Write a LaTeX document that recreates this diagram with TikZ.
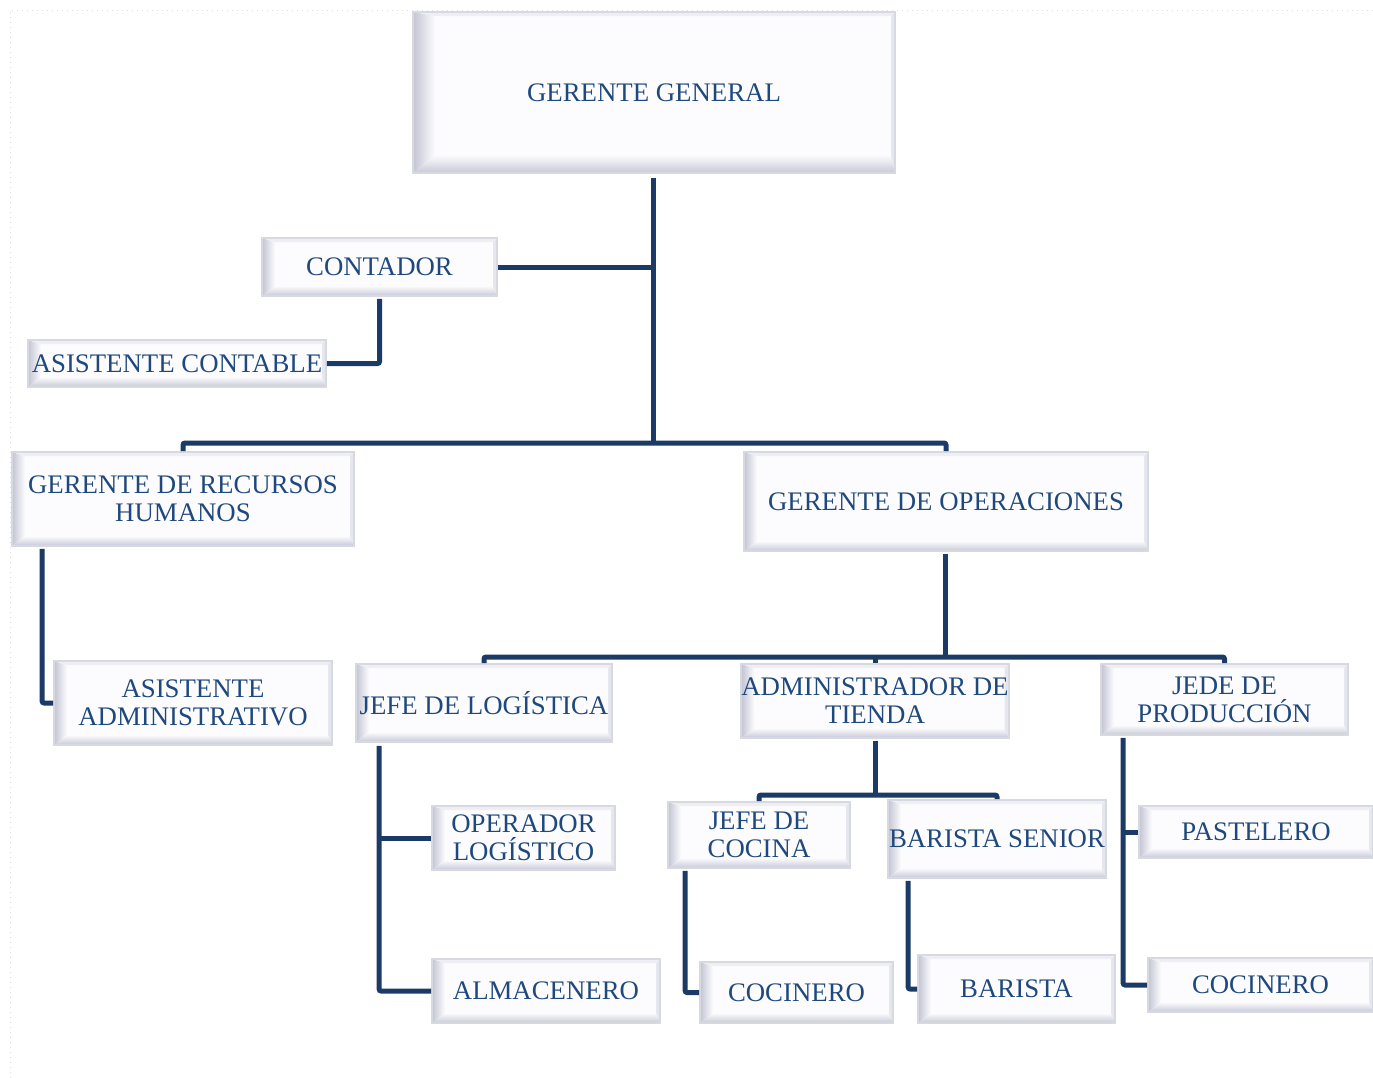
\documentclass[tikz,border=0pt]{standalone}
\usepackage{fontspec}
\setmainfont{Liberation Serif}
\definecolor{txtc}{RGB}{31,73,125}
\definecolor{linec}{RGB}{28,58,102}
\definecolor{facec}{RGB}{252,252,254}
\definecolor{bordc}{RGB}{214,217,224}
\definecolor{bevL}{RGB}{196,196,212}
\definecolor{bevB}{RGB}{200,200,216}
\definecolor{bevT}{RGB}{238,238,244}
\definecolor{bevR}{RGB}{230,230,238}
\newcommand{\bvl}{6.5pt}
\newcommand{\bvb}{5pt}
\tikzset{
  bvl/.code={\renewcommand{\bvl}{#1}},
  bvb/.code={\renewcommand{\bvb}{#1}},
  bx/.style={draw=bordc, line width=0.9pt, fill=facec, inner sep=0pt, text=txtc,
    align=center, font=\fontsize{13.4}{14}\selectfont, rectangle,
    path picture={
      \coordinate (SWc) at (path picture bounding box.south west);
      \coordinate (NEc) at (path picture bounding box.north east);
      \coordinate (NWc) at (SWc|-NEc);
      \coordinate (SEc) at (NEc|-SWc);
      \shade[left color=bevL, right color=facec] (SWc) -- (NWc) -- ([shift={(\bvl,-2pt)}]NWc) -- ([shift={(\bvl,\bvb)}]SWc) -- cycle;
      \shade[bottom color=bevB, top color=facec] (SWc) -- ([shift={(\bvl,\bvb)}]SWc) -- ([shift={(-2pt,\bvb)}]SEc) -- (SEc) -- cycle;
      \fill[bevT] (NWc) -- (NEc) -- ([shift={(-2pt,-2pt)}]NEc) -- ([shift={(\bvl,-2pt)}]NWc) -- cycle;
      \fill[bevR] (NEc) -- (SEc) -- ([shift={(-2pt,\bvb)}]SEc) -- ([shift={(-2pt,-2pt)}]NEc) -- cycle;
    }},
  conn/.style={draw=linec, line width=2.5pt, rounded corners=1pt}
}
\begin{document}
\begin{tikzpicture}[x=0.5pt,y=-0.5pt]
\useasboundingbox (0,0) rectangle (1373,1078);
\draw[gray!25, dotted, line width=0.5pt] (10,1078) -- (10,10) -- (1373,10);

\node[bx, bvl=11pt, bvb=9pt, minimum width=241pt, minimum height=80.5pt] (gg) at (654,92.5) {GERENTE GENERAL};
\node[bx, minimum width=117.5pt, minimum height=29pt] (cont) at (379.5,267) {CONTADOR};
\node[bx, minimum width=149pt, minimum height=23.5pt] (ac) at (177,363.5) {ASISTENTE CONTABLE};
\node[bx, minimum width=171pt, minimum height=47pt] (rh) at (183,499) {GERENTE DE RECURSOS\\HUMANOS};
\node[bx, minimum width=202pt, minimum height=49.5pt] (ops) at (946,501.5) {GERENTE DE OPERACIONES};
\node[bx, minimum width=139pt, minimum height=42pt] (aa) at (193,703) {ASISTENTE\\ADMINISTRATIVO};
\node[bx, minimum width=128pt, minimum height=39pt] (jl) at (484,703) {JEFE DE LOGÍSTICA};
\node[bx, minimum width=133pt, minimum height=37pt] (at) at (875,701) {ADMINISTRADOR DE\\TIENDA};
\node[bx, minimum width=123.5pt, minimum height=35.5pt] (jp) at (1224.5,699.5) {JEDE DE\\PRODUCCIÓN};
\node[bx, minimum width=91.5pt, minimum height=32pt] (ol) at (523.5,838) {OPERADOR\\LOGÍSTICO};
\node[bx, minimum width=114pt, minimum height=32pt] (alm) at (546,991) {ALMACENERO};
\node[bx, minimum width=91pt, minimum height=33pt] (jc) at (759,835) {JEFE DE\\COCINA};
\node[bx, minimum width=109pt, minimum height=39pt] (bs) at (997,839) {BARISTA SENIOR};
\node[bx, minimum width=96.5pt, minimum height=30.5pt] (coc1) at (796.5,992.5) {COCINERO};
\node[bx, minimum width=98.5pt, minimum height=34pt] (bar) at (1016.5,989) {BARISTA};
\node[bx, minimum width=117pt, minimum height=26pt] (pas) at (1256,832) {PASTELERO};
\node[bx, minimum width=112.5pt, minimum height=27pt] (coc2) at (1260.5,985) {COCINERO};

\coordinate (bus1) at (653,443);
\coordinate (bus2) at (945,657);
\coordinate (bus3) at (875,795);

\draw[conn] ([yshift=-2pt]gg.south -| bus1) -- (bus1);
\draw[conn] (rh.north) |- (bus1) -| (ops.north);
\draw[conn] (cont.east) -- (cont.east -| bus1);
\draw[conn] ([yshift=-1pt]cont.south) |- (ac.east);
\draw[conn] ([xshift=15.5pt,yshift=-1pt]rh.south west) |- (aa.west);

\draw[conn] ([yshift=-1pt]ops.south -| bus2) -- (bus2);
\draw[conn] (jl.north) |- (bus2) -| (jp.north);
\draw[conn] (at.north) -- (at.north |- bus2);

\coordinate (jlx) at ([xshift=12pt,yshift=-1.5pt]jl.south west);
\draw[conn] (jlx) |- (alm.west);
\draw[conn] (ol.west) -- (jlx |- ol.west);

\draw[conn] ([yshift=-1pt]at.south) -- (bus3);
\draw[conn] (jc.north) |- (bus3) -| (bs.north);
\draw[conn] ([xshift=9pt,yshift=-1pt]jc.south west) |- (coc1.west);
\draw[conn] ([xshift=10.5pt,yshift=-1pt]bs.south west) |- (bar.west);

\coordinate (jpx) at ([xshift=11.5pt,yshift=-1pt]jp.south west);
\draw[conn] (jpx) |- (coc2.west);
\draw[conn] (pas.west) -- (jpx |- pas.west);
\end{tikzpicture}
\end{document}
